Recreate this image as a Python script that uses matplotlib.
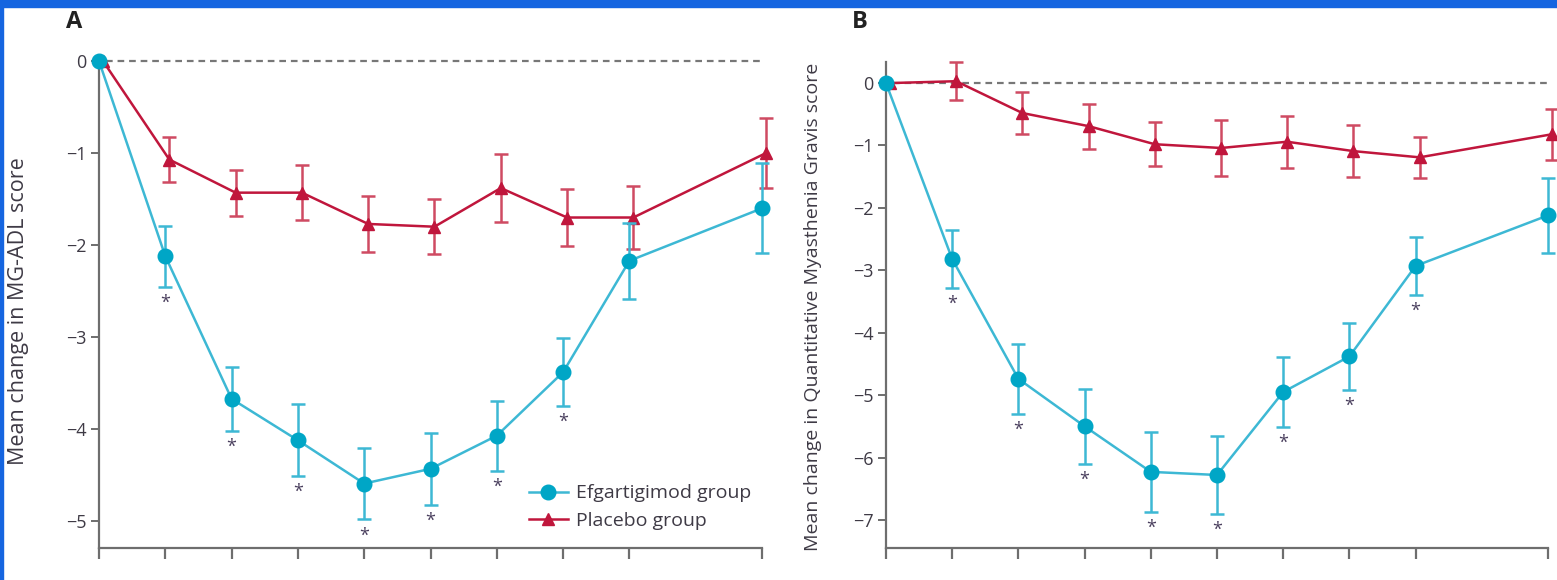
import matplotlib
matplotlib.use("Agg")
import matplotlib.pyplot as plt
from matplotlib.patches import Rectangle

plt.rcParams['font.family'] = ['Open Sans', 'DejaVu Sans']

weeks = [0, 1, 2, 3, 4, 5, 6, 7, 8, 10]

# Panel A: MG-ADL
a_eff = [0, -2.12, -3.67, -4.12, -4.59, -4.43, -4.07, -3.38, -2.17, -1.60]
a_eff_err = [0, 0.33, 0.35, 0.39, 0.39, 0.39, 0.38, 0.37, 0.41, 0.49]
a_pla = [0, -1.07, -1.43, -1.43, -1.77, -1.80, -1.38, -1.70, -1.70, -1.00]
a_pla_err = [0, 0.24, 0.25, 0.30, 0.30, 0.30, 0.37, 0.31, 0.34, 0.38]
a_star = [False, True, True, True, True, True, True, True, False, False]

# Panel B: QMG
b_eff = [0, -2.82, -4.74, -5.50, -6.23, -6.28, -4.95, -4.38, -2.93, -2.12]
b_eff_err = [0, 0.46, 0.56, 0.60, 0.64, 0.63, 0.56, 0.54, 0.47, 0.60]
b_pla = [0, 0.03, -0.48, -0.69, -0.98, -1.04, -0.94, -1.09, -1.19, -0.82]
b_pla_err = [0, 0.30, 0.33, 0.36, 0.35, 0.45, 0.42, 0.42, 0.33, 0.41]
b_star = [False, True, True, True, True, True, True, True, True, False]

CYAN = '#00A6C6'
CYAN_L = '#3DB8D4'
RED = '#C0163C'
RED_L = '#CF4A62'
AX = '#6E6E6E'
TXT = '#3E3A45'

fig = plt.figure(figsize=(15.57, 5.8), dpi=100)
fig.patches.append(Rectangle((0, 1 - 7/580), 1, 7/580, transform=fig.transFigure,
                             color='#1565E0', zorder=10))
fig.patches.append(Rectangle((0, 0), 2.5/1557, 1, transform=fig.transFigure,
                             color='#1565E0', zorder=10))

def noclip(container):
    for child in container.get_children():
        child.set_clip_on(False)

def panel(rect, eff, eff_err, pla, pla_err, star, ylim, spine_top, yticks, ylabel, lfs, letter, letter_x, legend=False):
    ax = fig.add_axes(rect)
    ax.set_xlim(0, 10)
    ax.set_ylim(*ylim)
    for s in ['top', 'right']:
        ax.spines[s].set_visible(False)
    for s in ['left', 'bottom']:
        ax.spines[s].set_color(AX)
        ax.spines[s].set_linewidth(1.6)
    ax.spines['left'].set_bounds(ylim[0], spine_top)
    ax.set_xticks(weeks)
    ax.set_xticklabels([])
    ax.tick_params(axis='x', direction='out', length=8, width=1.6, color=AX)
    ax.set_yticks(yticks)
    ax.set_yticklabels(['0' if t == 0 else '\u2212%d' % -t for t in yticks])
    ax.tick_params(axis='y', direction='out', length=6, width=1.4, color=AX,
                   labelsize=13, labelcolor=TXT, pad=3)
    ax.axhline(0, xmin=0.01, xmax=1.0, color='#777777', lw=1.6, ls=(0, (3, 2.2)), zorder=1)

    xp = [w + 0.06 for w in weeks]
    c = ax.errorbar(xp[1:], pla[1:], yerr=pla_err[1:], fmt='none', ecolor=RED_L,
                    elinewidth=1.8, capsize=4.8, capthick=1.8, zorder=2)
    noclip(c)
    ax.plot(xp, pla, color=RED, lw=1.8, marker='^', ms=9, mfc=RED, mec=RED,
            zorder=3, label='Placebo group', clip_on=False)
    c = ax.errorbar(weeks[1:], eff[1:], yerr=eff_err[1:], fmt='none', ecolor=CYAN_L,
                    elinewidth=1.8, capsize=4.8, capthick=1.8, zorder=4)
    noclip(c)
    ax.plot(weeks, eff, color=CYAN_L, lw=1.8, marker='o', ms=10.5, mfc=CYAN, mec=CYAN,
            zorder=5, label='Efgartigimod group', clip_on=False)
    for w, v, e, s in zip(weeks, eff, eff_err, star):
        if s:
            ax.annotate('*', (w, v - e), xytext=(0, -5), textcoords='offset points',
                        ha='center', va='top', fontsize=13, color='#4A3F5E')
    ax.set_ylabel(ylabel, fontsize=lfs, color=TXT)
    fig.text(letter_x, 0.962, letter, fontsize=17, fontweight='bold', color='#222222',
             ha='left', va='center')
    if legend:
        h, l = ax.get_legend_handles_labels()
        ax.legend(h[::-1], l[::-1], loc='lower left', bbox_to_anchor=(0.648, 0.035),
                  frameon=False, fontsize=14, handlelength=2.0, handletextpad=0.45,
                  labelspacing=0.5, borderaxespad=0, borderpad=0, labelcolor=TXT)
    return ax

axA = panel([99/1557, 32/580, 663/1557, 510/580], a_eff, a_eff_err, a_pla, a_pla_err, a_star,
            (-5.29, 0.25), 0, [0, -1, -2, -3, -4, -5],
            'Mean change in MG-ADL score', 15.5, 'A', 66/1557, legend=True)
axA.yaxis.set_label_coords(-0.105, 0.465)

axB = panel([886/1557, 32/580, 662/1557, 493/580], b_eff, b_eff_err, b_pla, b_pla_err, b_star,
            (-7.45, 0.45), 0.34, [0, -1, -2, -3, -4, -5, -6, -7],
            'Mean change in Quantitative Myasthenia Gravis score', 14, 'B', 852/1557)
axB.yaxis.set_label_coords(-0.097, 0.49)

fig.savefig('out.png', dpi=100)
